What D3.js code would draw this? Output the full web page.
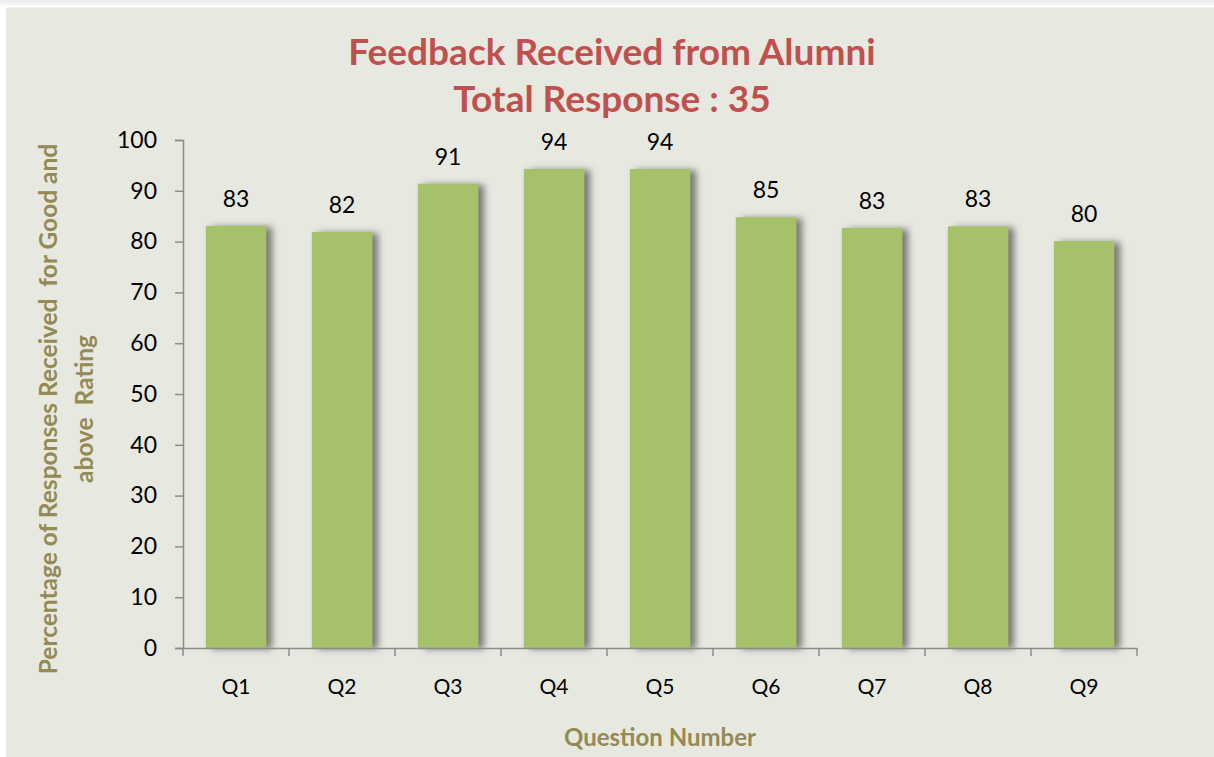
<!DOCTYPE html>
<html><head><meta charset="utf-8">
<script src="https://cdn.jsdelivr.net/npm/d3@7"></script>
<style>
html,body{margin:0;padding:0;background:#fff;}
svg{display:block;}
</style></head>
<body>
<script>
const categories = ["Q1","Q2","Q3","Q4","Q5","Q6","Q7","Q8","Q9"];
const values = [83.1, 81.9, 91.4, 94.3, 94.3, 84.8, 82.7, 83.0, 80.1];
const labels = ["83","82","91","94","94","85","83","83","80"];
const yTicks = [0,10,20,30,40,50,60,70,80,90,100];
const titleLines = ["Feedback Received from Alumni","Total Response : 35"];
const yTitleLines = ["Percentage of Responses Received  for Good and","above  Rating"];
const xTitle = "Question Number";

const W = 1214, H = 757;
const svg = d3.select("body").append("svg").attr("width", W).attr("height", H);
const defs = svg.append("defs");
const tg = defs.append("linearGradient").attr("id","topg").attr("x1",0).attr("y1",0).attr("x2",0).attr("y2",1);
tg.append("stop").attr("offset","0%").attr("stop-color","#ebebeb");
tg.append("stop").attr("offset","100%").attr("stop-color","#fafafa");
const f = defs.append("filter").attr("id","sh").attr("x","-20%").attr("y","-20%").attr("width","150%").attr("height","140%");
f.append("feDropShadow").attr("dx",6).attr("dy",1).attr("stdDeviation",3.5).attr("flood-color","#555").attr("flood-opacity",0.75);

svg.append("rect").attr("x",0).attr("y",0).attr("width",W).attr("height",6).attr("fill","url(#topg)");
svg.append("rect").attr("x",6).attr("y",7.5).attr("width",W-6).attr("height",H-7.5).attr("fill","#e7e9e1");

const font = "Lato, 'Open Sans', sans-serif";
const x = d3.scaleBand().domain(categories).range([183,1137]).paddingInner(0.43).paddingOuter(0.215);
const y = d3.scaleLinear().domain([0,100]).range([648,140]);

// bars
svg.append("g").selectAll("rect").data(values).join("rect")
  .attr("x",(d,i)=>x(categories[i])).attr("width",x.bandwidth())
  .attr("y",d=>y(d)).attr("height",d=>y(0)-y(d))
  .attr("fill","#a5c26b").attr("filter","url(#sh)");

// y axis
const ya = svg.append("g").attr("transform","translate(183,0)")
  .call(d3.axisLeft(y).tickValues(yTicks).tickSize(8).tickPadding(18));
ya.select(".domain").attr("stroke","#8c8c8c").attr("stroke-width",1.5);
ya.selectAll(".tick line").attr("stroke","#8c8c8c").attr("stroke-width",1.5);
ya.selectAll(".tick text").attr("font-family",font).attr("font-size",23).attr("fill","#000");

// x axis
const xa = svg.append("g").attr("transform","translate(0,648)")
  .call(d3.axisBottom(x).tickSize(0).tickPadding(31));
xa.select(".domain").attr("stroke","#8c8c8c").attr("stroke-width",1.5);
xa.selectAll(".tick text").attr("font-family",font).attr("font-size",21).attr("fill","#000");
const bounds = d3.range(categories.length+1).map(i=>183+i*(954/categories.length));
svg.append("g").selectAll("line").data(bounds).join("line")
  .attr("x1",d=>d).attr("x2",d=>d).attr("y1",648).attr("y2",656)
  .attr("stroke","#8c8c8c").attr("stroke-width",1.5);

// value labels
svg.append("g").selectAll("text").data(values).join("text")
  .attr("x",(d,i)=>x(categories[i])+x.bandwidth()/2)
  .attr("y",d=>y(d)-19)
  .attr("text-anchor","middle").attr("font-family",font).attr("font-size",23).attr("fill","#000")
  .text((d,i)=>labels[i]);

// title
svg.append("g").selectAll("text").data(titleLines).join("text")
  .attr("x",612).attr("y",(d,i)=>65+i*47)
  .attr("text-anchor","middle").attr("font-family",font).attr("font-weight","bold")
  .attr("font-size",37).attr("fill","#c0504d").text(d=>d);

// y title
svg.append("g").selectAll("text").data(yTitleLines).join("text")
  .attr("transform",(d,i)=>`translate(${57+i*36},409) rotate(-90)`)
  .attr("text-anchor","middle").attr("font-family",font).attr("font-weight","bold")
  .style("white-space","pre")
  .attr("font-size",24.5).attr("fill","#948a54").text(d=>d);

// x title
svg.append("text").attr("x",660).attr("y",746).attr("text-anchor","middle")
  .attr("font-family",font).attr("font-weight","bold").attr("font-size",24).attr("fill","#948a54").text(xTitle);
</script>
</body></html>
